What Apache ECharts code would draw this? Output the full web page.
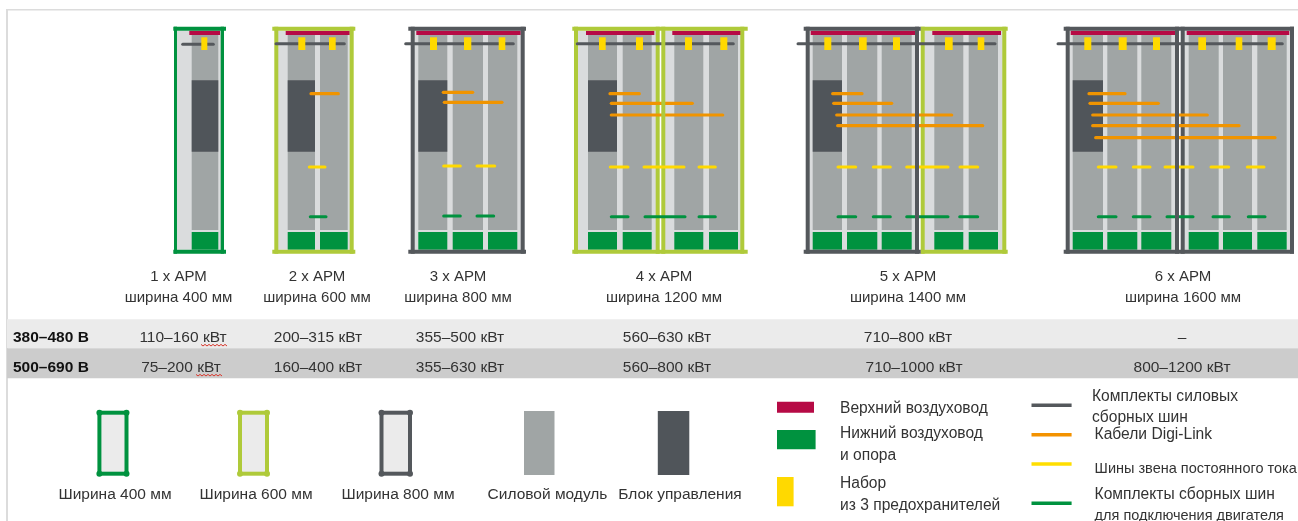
<!DOCTYPE html>
<html><head><meta charset="utf-8">
<style>html,body{margin:0;padding:0;background:#fff}#c{width:1298px;height:521px}</style>
<script src="https://cdn.jsdelivr.net/npm/echarts@6/dist/echarts.min.js"></script>
</head><body><div id="c"></div>
<script>
// Diagram values: every box is [left, top, right, bottom] and every line [from, to, level] on the drawing's axes.
const TOP=30.7, BOT=249.7, MT=35, MB=230, GT=232, CT=80.3, CB=151.7;
const tableBands=[[7,319.3,1298,348.3],[7,348.3,1298,378.3]];
const tableColumns=[178.5,317,458,664,908,1183];
const headerTop=['1 х АРМ','2 х АРМ','3 х АРМ','4 х АРМ','5 х АРМ','6 х АРМ'];
const headerWidth=['ширина 400 мм','ширина 600 мм','ширина 800 мм','ширина 1200 мм','ширина 1400 мм','ширина 1600 мм'];
const ratedLow=['110–160 кВт','200–315 кВт','355–500 кВт','560–630 кВт','710–800 кВт','–'];
const ratedHigh=['75–200 кВт','160–400 кВт','355–630 кВт','560–800 кВт','710–1000 кВт','800–1200 кВт'];
const valueColumns=[183,318,460,667,908,1182];
const valueColumnsHigh=[181,318,460,667,914,1182];
const voltageRows=['380–480 В','500–690 В'];
const spellMarks=[[201,228,345],[196,223,375]];

const panels=[[176,TOP,221,BOT],[278,TOP,350,BOT],[414,TOP,521,BOT],[578,TOP,656,BOT],[665,TOP,741,BOT],[809,TOP,915,BOT],[924,TOP,1003,BOT],[1069,TOP,1175,BOT],[1184,TOP,1290,BOT]];
const moduleSpans=[[191.7,218.3],[287.7,315],[320,347.7],[418.3,447.3],[452.7,483],[488,517.3],[588,617],[622.7,651.7],[674.3,703.3],[709,738],[812.7,842],[847,877.3],[881.7,911.7],[934.3,963.3],[968.7,998],[1072.7,1103],[1107.3,1137.3],[1141.3,1171.3],[1188.7,1218.7],[1223,1252],[1257.3,1286.7]];
const controlSpans=[[191.7,218.3],[287.7,315],[418.3,447.3],[588,617],[812.7,842],[1072.7,1103]];
const redDucts=[[189.3,220],[285.7,349.7],[416.3,520.7],[586,654.3],[672.3,741],[810.7,915],[932.3,1001],[1070.7,1175],[1186.7,1289.3]];
const fuses=[[201.3,207.3],[298.3,305.3],[329,335.7],[430,437],[464,471.3],[498.7,505.3],[599,605.7],[636,643],[685,692],[720.3,727.3],[824.3,831.3],[859,866.7],[893,900],[945,952.7],[977.7,984.3],[1084.3,1091.3],[1118.7,1126.7],[1153,1160],[1198.3,1206],[1235.7,1242.3],[1267.7,1275.7]];
const greenFrame=[[174,26.7,177,253.7],[220.7,26.7,224,253.7],[173.3,26.7,226,30.7],[173.3,249.7,226,253.7]];
const limeFrame=[[274.3,26.7,278.3,253.7],[349.7,26.7,353.7,253.7],[272.3,26.7,355.3,30.7],[272.3,249.7,355.3,253.7],
 [574,26.7,578,253.7],[655.7,26.7,659.7,253.7],[740.3,26.7,744.3,253.7],[572.3,26.7,747.7,30.7],[572.3,249.7,747.7,253.7],
 [920.7,26.7,924.7,253.7],[1002.3,26.7,1006.3,253.7],[920.7,26.7,1007.7,30.7],[920.7,249.7,1007.7,253.7]];
const limeOver=[[661.3,26.7,665.3,253.7]];
const darkFrame=[[410.7,26.7,414.7,253.7],[520.7,26.7,524.7,253.7],[408.3,26.7,526,30.7],[408.3,249.7,526,253.7],
 [805.7,26.7,809.7,253.7],[803.7,26.7,920.7,30.7],[803.7,249.7,920.7,253.7],
 [1065.7,26.7,1069.7,253.7],[1180.7,26.7,1184.7,253.7],[1290,26.7,1294,253.7],[1063.7,26.7,1294,30.7],[1063.7,249.7,1294,253.7]];
const darkOver=[[915,26.7,919,253.7],[1175,26.7,1179,253.7]];
const busbars=[[182.7,213.3,44.3],[276,344.3,43.7],[405.7,513.3,43.7],[577.3,733.3,43.7],[798,995,43.7],[1058,1282.3,43.7]];
const digiLink=[[311,338.3,93.7],[443.3,472.7,92.3],[444.3,502,102.3],[610,639.3,93.7],[611.3,692.3,103.3],[611.3,722.7,115],[832.7,862,93.7],[833.7,891.7,103.3],[836.7,951.7,115],[837.7,982.7,125.7],[1089,1125,93.7],[1090,1158.3,103.3],[1092.7,1207.3,115],[1092.7,1239,125.7],[1095.7,1275,137.7]];
const dcLink=[[309.3,325,167],[443.7,460.3,166],[477,494.7,166],[610.3,628,167],[644,684,167],[699,715.3,167],[838,855.7,167],[873.3,890.3,167],[906.7,948,167],[960,977.7,167],[1098.3,1116,167],[1133.3,1150,167],[1165,1193,167],[1211,1228.7,167],[1247.3,1264,167]];
const motorBus=[[310.3,326,216.7],[443.7,460.3,216],[477,493.7,216],[611.3,628,216.7],[645,685,216.7],[699,715.3,216.7],[838,855.7,216.7],[873.3,890.3,216.7],[906.7,948,216.7],[959.7,977.7,216.7],[1098.3,1116,216.7],[1133.3,1150,216.7],[1167,1193,216.7],[1213,1229.3,216.7],[1248.3,1265,216.7]];

const legendFrames=[[99.4,126.5,412.7,473.7,'#00923f'],[240,267,412.7,473.7,'#afca3a'],[381.5,410,412.7,473.7,'#54585c']];
const legendLabels=[['Ширина 400 мм',115,494],['Ширина 600 мм',256,494],['Ширина 800 мм',398,494],['Силовой модуль',547.5,494],['Блок управления',680,494]];
const legendBoxes=[[524,411,554.5,475,'#a0a5a5'],[657.8,411,689.3,475,'#50555a'],[777,401.7,814,412.7,'#b60a45'],[777,430,815.6,449.3,'#00923f'],[777,477,793.6,506.3,'#ffd900']];
const legendLines=[[1031.5,1071.6,405.3,'#54585c'],[1031.5,1071.6,434.7,'#f39200'],[1031.5,1071.6,464,'#ffde00'],[1031.5,1071.6,503.3,'#00923f']];
const legendText=[['Верхний воздуховод',840,408],['Нижний воздуховод',840,432.7],['и опора',840,455],['Набор',840,482.7],['из 3 предохранителей',840,505],['Комплекты силовых',1092,396],['сборных шин',1092,416.7],['Кабели Digi-Link',1094.6,434],['Комплекты сборных шин',1094.6,494]];
const legendTextTight=[['Шины звена постоянного тока',1094.6,468.3],['для подключения двигателя',1094.6,515.7]];

const boxes=(list,fill)=>({type:'custom',coordinateSystem:'cartesian2d',silent:true,clip:false,
  data:list.map(d=>({value:d.slice(0,4)})),
  renderItem:(p,api)=>{const a=api.coord([api.value(0),api.value(1)]),b=api.coord([api.value(2),api.value(3)]);
    return {type:'rect',shape:{x:a[0],y:a[1],width:b[0]-a[0],height:b[1]-a[1]},style:{fill:list[p.dataIndex][4]||fill}};}});
const spans=(s,t,b)=>s.map(d=>[d[0],t,d[1],b]);
const lines=(list,stroke,w,cap)=>({type:'custom',coordinateSystem:'cartesian2d',silent:true,clip:false,
  data:list.map(d=>d.slice(0,3)),
  renderItem:(p,api)=>{const a=api.coord([api.value(0),api.value(2)]),b=api.coord([api.value(1),api.value(2)]);
    return {type:'line',shape:{x1:a[0],y1:a[1],x2:b[0],y2:b[1]},style:{stroke:list[p.dataIndex][3]||stroke,lineWidth:w,lineCap:cap||'round'}};}});
const texts=(list,size,align,color,weight,family)=>({type:'custom',coordinateSystem:'cartesian2d',silent:true,clip:false,
  data:list.map(d=>[d[1],d[2]]),
  renderItem:(p,api)=>{const a=api.coord([api.value(0),api.value(1)]);
    return {type:'text',style:{x:a[0],y:a[1]+0.7,text:list[p.dataIndex][0],align:align,verticalAlign:'middle',fill:color,
      font:(weight||'normal')+' '+size+'px '+(family||'"Liberation Sans"')}};}});
const squiggle={type:'custom',coordinateSystem:'cartesian2d',silent:true,clip:false,
  data:spellMarks,
  renderItem:(p,api)=>{const a=api.coord([api.value(0),api.value(2)]),b=api.coord([api.value(1),api.value(2)]),pts=[];
    for(let x=a[0],i=0;x<=b[0];x+=2,i++)pts.push([x,a[1]+(i%2?1:-0.6)]);
    return {type:'polyline',shape:{points:pts},style:{stroke:'#d9362b',fill:null,lineWidth:1}};}};
const frameIcon={type:'custom',coordinateSystem:'cartesian2d',silent:true,clip:false,
  data:legendFrames.map(d=>d.slice(0,4)),
  renderItem:(p,api)=>{const l=api.coord([api.value(0),api.value(2)]),r=api.coord([api.value(1),api.value(3)]),c=legendFrames[p.dataIndex][4];
    const x0=l[0],y0=l[1],x1=r[0],y1=r[1],st={stroke:c,lineWidth:4};
    const seg=(a,b,e,f)=>({type:'line',shape:{x1:a,y1:b,x2:e,y2:f},style:st});
    const dot=(x,y)=>({type:'circle',shape:{cx:x,cy:y,r:3},style:{fill:c}});
    return {type:'group',children:[{type:'rect',shape:{x:x0,y:y0,width:x1-x0,height:y1-y0},style:{fill:'#ebebeb'}},
      seg(x0,y0,x1,y0),seg(x0,y1,x1,y1),seg(x0,y0,x0,y1),seg(x1,y0,x1,y1),dot(x0,y0),dot(x1,y0),dot(x0,y1),dot(x1,y1)]};}};

const chart=echarts.init(document.getElementById('c'),null,{renderer:'canvas'});
chart.setOption({animation:false,backgroundColor:'#fff',
  grid:{left:0,right:0,top:0,bottom:0},
  xAxis:{type:'value',min:0,max:1298,show:false},
  yAxis:{type:'value',min:0,max:521,inverse:true,show:false},
  series:[
    boxes([[6,10,8,521],[6,9,1298,10.5]],'#dcdcdc'),
    boxes(tableBands.slice(0,1),'#ebebeb'),boxes(tableBands.slice(1),'#cccccc'),
    boxes(panels,'#dadcdd'),
    boxes(spans(moduleSpans,MT,MB),'#a0a5a5'),
    boxes(spans(controlSpans,CT,CB),'#50555a'),
    boxes(spans(moduleSpans,GT,BOT),'#00923f'),
    boxes(spans(redDucts,TOP,MT),'#b60a45'),
    boxes(greenFrame,'#00923f'),boxes(limeFrame,'#afca3a'),boxes(darkFrame,'#54585c'),
    lines(busbars,'#54585c',3),
    lines(digiLink,'#f09400',3.2),
    boxes(limeOver,'#afca3a'),
    lines(dcLink,'#ffd900',3),
    lines(motorBus,'#00923f',3),
    boxes(darkOver,'#54585c'),
    boxes(spans(fuses,37.3,50),'#ffd900'),
    texts(headerTop.map((t,i)=>[t,tableColumns[i],276]),15,'center','#333'),
    texts(headerWidth.map((t,i)=>[t,tableColumns[i],296.7]),15,'center','#333'),
    texts(ratedLow.map((t,i)=>[t,valueColumns[i],337]),15.5,'center','#333'),
    texts(ratedHigh.map((t,i)=>[t,valueColumnsHigh[i],367.3]),15.5,'center','#333'),
    texts(voltageRows.map((t,i)=>[t,13,[337,367.3][i]]),15.5,'left','#111','bold'),
    squiggle,
    frameIcon,
    boxes(legendBoxes),
    lines(legendLines,null,3.5,'butt'),
    texts(legendLabels,15.5,'center','#333'),
    texts(legendText,15.6,'left','#333'),
    texts(legendTextTight,14.5,'left','#333')
  ]});
</script></body></html>
